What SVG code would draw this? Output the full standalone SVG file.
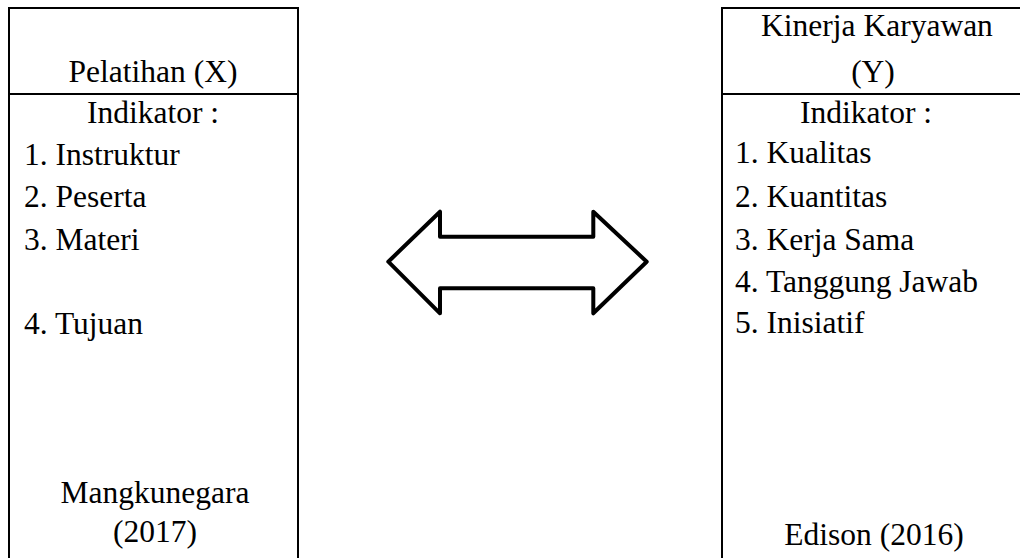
<svg xmlns="http://www.w3.org/2000/svg" width="1020" height="558" viewBox="0 0 1020 558">
<style>
.box{fill:#fff;stroke:#000;stroke-width:2}
.t{font-family:"Liberation Serif","Times New Roman",serif;font-size:31.5px;fill:#000}
.c{text-anchor:middle}
.arrow{fill:#fff;stroke:#000;stroke-width:4;stroke-linejoin:round}
</style>
<rect width="1020" height="558" fill="#fff"/>
<g id="node-pelatihan">
<rect class="box" x="9" y="8" width="289" height="570"/>
<line class="box" x1="9" y1="94" x2="298" y2="94"/>
<text class="t c" x="153" y="82">Pelatihan (X)</text>
<text class="t c" x="153" y="123">Indikator :</text>
<text class="t" x="24" y="165">1. Instruktur</text>
<text class="t" x="24" y="207">2. Peserta</text>
<text class="t" x="24" y="250">3. Materi</text>
<text class="t" x="24" y="334">4. Tujuan</text>
<text class="t c" x="155" y="503">Mangkunegara</text>
<text class="t c" x="155" y="542">(2017)</text>
</g>
<g id="node-kinerja">
<rect class="box" x="722" y="8" width="320" height="570"/>
<line class="box" x1="722" y1="94" x2="1042" y2="94"/>
<text class="t c" x="877" y="36">Kinerja Karyawan</text>
<text class="t c" x="873" y="82">(Y)</text>
<text class="t c" x="866" y="123">Indikator :</text>
<text class="t" x="735" y="163">1. Kualitas</text>
<text class="t" x="735" y="207">2. Kuantitas</text>
<text class="t" x="735" y="250">3. Kerja Sama</text>
<text class="t" x="735" y="292">4. Tanggung Jawab</text>
<text class="t" x="735" y="333">5. Inisiatif</text>
<text class="t c" x="874" y="545">Edison (2016)</text>
</g>
<g id="connectors">
<path class="arrow" d="M388.3,261.7 L440,211.7 L440,236.7 L593.3,236.7 L593.3,211.7 L646.7,261.7 L593.3,313.3 L593.3,288.3 L440,288.3 L440,313.3 Z"/>
</g>
</svg>
